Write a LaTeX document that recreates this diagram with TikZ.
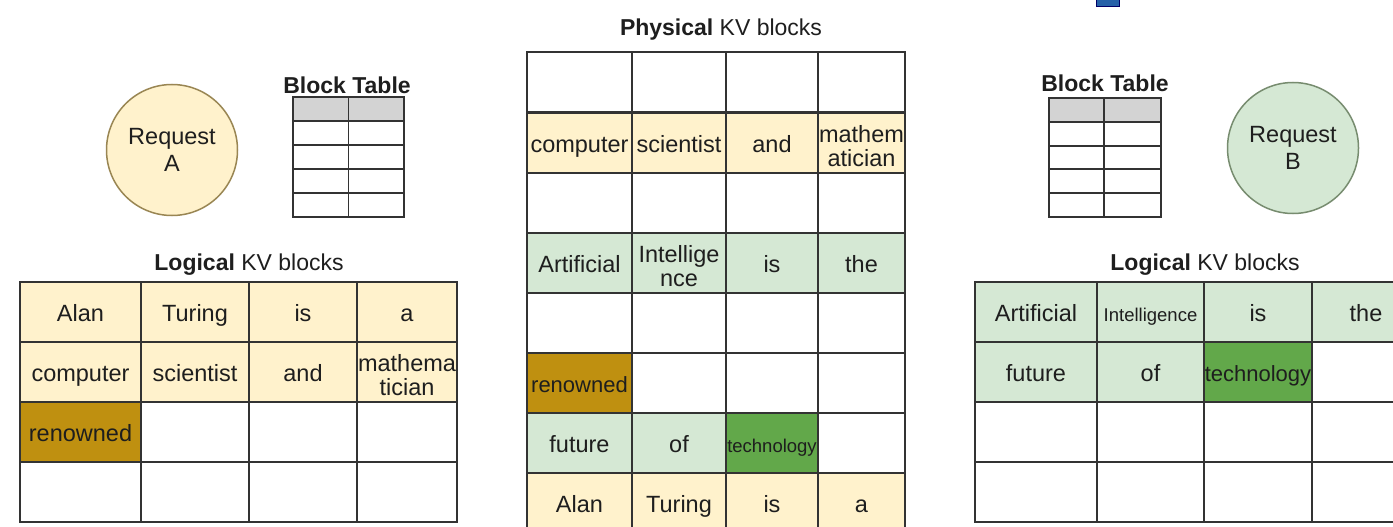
\documentclass[tikz,border=0pt]{standalone}
\usepackage{fontspec}
\setmainfont{Liberation Sans}
\usepackage{xcolor}
\usepackage{tikz}
\usetikzlibrary{positioning}
\definecolor{kvyel}{HTML}{FFF2CC}
\definecolor{kvgrn}{HTML}{D5E8D4}
\definecolor{kvdgrn}{HTML}{62A84A}
\definecolor{kvbrn}{HTML}{BF9010}
\definecolor{kvline}{HTML}{333333}
\definecolor{kvhead}{HTML}{D3D3D3}
\definecolor{kvtext}{HTML}{1E1E1E}
\newcommand\kvsm{\fontsize{18.5}{20}\selectfont}
% two short lines in one cell
\newcommand\kvtwo[2]{\makebox[0pt]{\raisebox{10pt}[0pt][0pt]{#1}}\makebox[0pt]{\raisebox{-13.5pt}[0pt][0pt]{#2}}}
\tikzset{
  kvcell/.style={draw=kvline, line width=1.8pt, minimum width=#1, minimum height=60pt,
    anchor=north west, outer sep=0pt, inner sep=0pt, text height=19pt, text depth=0pt,
    text=kvtext, font=\fontsize{23.5}{24}\selectfont},
  kvtitle/.style={text=kvtext, font=\fontsize{23}{26}\selectfont},
  kvreq/.style={circle, line width=1.5pt, minimum size=131pt, align=center, text=kvtext,
    font=\fontsize{23.5}{27}\selectfont},
  kvbt/.style={draw=kvline, line width=1.6pt}
}

\begin{document}
\begin{tikzpicture}[x=1pt, y=-1pt]
    \useasboundingbox (0,0) rectangle (1393,527);
    \fill[white] (0,0) rectangle (1393,527);
    % scrap of blue at the top edge
    \fill[blue!55!cyan!60!black!85, draw=blue!40!black] (1096,-4) rectangle (1119,6);

    % request A side
    \node[kvreq, fill=kvyel, draw=kvbrn!40!gray] (reqA) at (172,150) {Request\\A};
    \node[kvtitle] (btA) at (347,85) {\textbf{Block Table}};
    \fill[kvhead] (293,97) rectangle (404,121);
    \draw[kvbt] (293,97) rectangle (404,217) (348.5,97) -- (348.5,217);
    \foreach \y in {121,145,169,193} \draw[kvbt] (293,\y) -- (404,\y);

    \node[kvtitle] (logA) at (249,265) {\textbf{Logical} KV blocks};
    \foreach \x/\w/\f/\t [count=\c] in {20/121/kvyel/Alan, 141/108/kvyel/Turing, 249/108/kvyel/is, 357/100/kvyel/a}
        \node[kvcell=\w, fill=\f] (la-1-\c) at (\x,282) {\t};
    \foreach \x/\w/\f/\t [count=\c] in {20/121/kvyel/computer, 141/108/kvyel/scientist, 249/108/kvyel/and, 357/100/kvyel/{\kvtwo{mathema}{tician}}}
        \node[kvcell=\w, fill=\f] (la-2-\c) at (\x,342) {\t};
    \foreach \x/\w/\f/\t [count=\c] in {20/121/kvbrn/renowned, 141/108/white/, 249/108/white/, 357/100/white/}
        \node[kvcell=\w, fill=\f] (la-3-\c) at (\x,402) {\t};
    \foreach \x/\w [count=\c] in {20/121, 141/108, 249/108, 357/100}
        \node[kvcell=\w, fill=white] (la-4-\c) at (\x,462) {};

    % physical blocks
    \node[kvtitle] (phys) at (721,30) {\textbf{Physical} KV blocks};
    \foreach \x/\w/\f/\t [count=\c] in {527/105/white/, 632/94/white/, 726/92/white/, 818/87/white/}
        \node[kvcell=\w, fill=\f] (pk-1-\c) at (\x,52) {\t};
    \foreach \x/\w/\f/\t [count=\c] in {527/105/kvyel/computer, 632/94/kvyel/scientist, 726/92/kvyel/and, 818/87/kvyel/{\kvtwo{mathem}{atician}}}
        \node[kvcell=\w, fill=\f] (pk-2-\c) at (\x,113) {\t};
    \foreach \x/\w/\f/\t [count=\c] in {527/105/white/, 632/94/white/, 726/92/white/, 818/87/white/}
        \node[kvcell=\w, fill=\f] (pk-3-\c) at (\x,173) {\t};
    \foreach \x/\w/\f/\t [count=\c] in {527/105/kvgrn/Artificial, 632/94/kvgrn/{\kvtwo{Intellige}{nce}}, 726/92/kvgrn/is, 818/87/kvgrn/the}
        \node[kvcell=\w, fill=\f] (pk-4-\c) at (\x,233) {\t};
    \foreach \x/\w/\f/\t [count=\c] in {527/105/white/, 632/94/white/, 726/92/white/, 818/87/white/}
        \node[kvcell=\w, fill=\f] (pk-5-\c) at (\x,293) {\t};
    \foreach \x/\w/\f/\t [count=\c] in {527/105/kvbrn/{\fontsize{22}{24}\selectfont renowned}, 632/94/white/, 726/92/white/, 818/87/white/}
        \node[kvcell=\w, fill=\f] (pk-6-\c) at (\x,353) {\t};
    \foreach \x/\w/\f/\t [count=\c] in {527/105/kvgrn/future, 632/94/kvgrn/of, 726/92/kvdgrn/{\kvsm technology}, 818/87/white/}
        \node[kvcell=\w, fill=\f] (pk-7-\c) at (\x,413) {\t};
    \foreach \x/\w/\f/\t [count=\c] in {527/105/kvyel/Alan, 632/94/kvyel/Turing, 726/92/kvyel/is, 818/87/kvyel/a}
        \node[kvcell=\w, fill=\f] (pk-8-\c) at (\x,473) {\t};

    % request B side
    \node[kvreq, fill=kvgrn, draw=kvdgrn!30!gray] (reqB) at (1293,148) {Request\\B};
    \node[kvtitle] (btB) at (1105,83) {\textbf{Block Table}};
    \fill[kvhead] (1049,98) rectangle (1161,122);
    \draw[kvbt] (1049,98) rectangle (1161,217) (1104,98) -- (1104,217);
    \foreach \y in {122,146,169,193} \draw[kvbt] (1049,\y) -- (1161,\y);

    \node[kvtitle] (logB) at (1205,265) {\textbf{Logical} KV blocks};
    \foreach \x/\w/\f/\t [count=\c] in {975/122/kvgrn/Artificial, 1097/107/kvgrn/{\kvsm Intelligence}, 1204/108/kvgrn/is, 1312/108/kvgrn/the}
        \node[kvcell=\w, fill=\f] (lb-1-\c) at (\x,282) {\t};
    \foreach \x/\w/\f/\t [count=\c] in {975/122/kvgrn/future, 1097/107/kvgrn/of, 1204/108/kvdgrn/{\fontsize{22}{24}\selectfont technology}, 1312/108/white/}
        \node[kvcell=\w, fill=\f] (lb-2-\c) at (\x,342) {\t};
    \foreach \r/\y in {3/402, 4/462}
        \foreach \x/\w [count=\c] in {975/122, 1097/107, 1204/108, 1312/108}
            \node[kvcell=\w, fill=white] (lb-\r-\c) at (\x,\y) {};
\end{tikzpicture}
\end{document}
